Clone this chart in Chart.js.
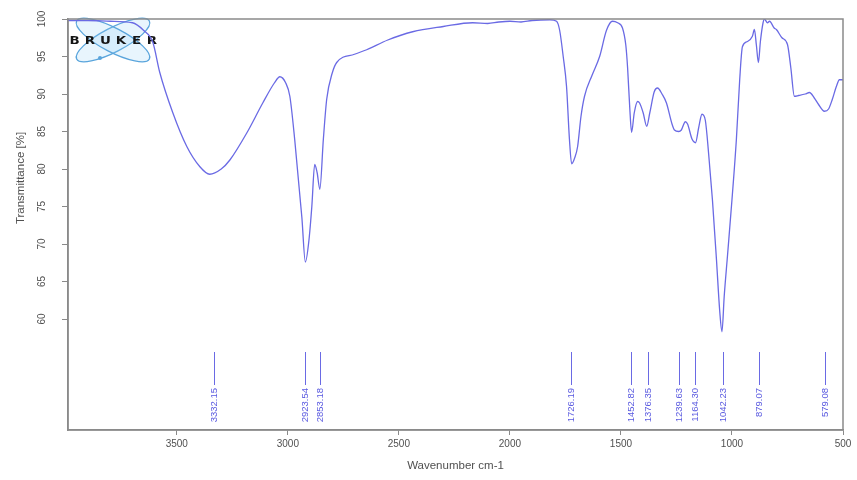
<!DOCTYPE html>
<html>
<head>
<meta charset="utf-8">
<script src="https://cdn.jsdelivr.net/npm/chart.js@4"></script>
<style>
html,body{margin:0;padding:0;background:#fff;}
canvas{display:block;}
</style>
</head>
<body>
<canvas id="ir" width="857" height="480"></canvas>
<script>
// spectrum (wavenumber cm-1 / transmittance %)
const wavenumbers = [3990,3900,3800,3700,3650,3608,3577,3518,3455,3396,3352,3300,3261,3185,3113,3060,3036,3010,2991,2969,2937,2921,2905,2892,2879,2868,2856,2840,2825,2800,2780,2700,2645,2550,2438,2300,2168,2100,2050,2000,1950,1900,1820,1790,1776,1760,1745,1732,1722,1708,1695,1680,1664,1630,1596,1565,1538,1515,1493,1478,1470,1460,1452,1440,1425,1416,1400,1384,1370,1350,1335,1315,1295,1270,1259,1240,1228,1210,1200,1180,1164,1150,1135,1120,1105,1088,1070,1055,1045,1035,1020,1000,980,965,953,930,908,899,890,881,872,860,854,840,831,810,800,775,750,735,719,700,670,651,630,610,584,565,548,530,516,500];
const transmittance = [99.8,99.8,99.7,99.5,98.5,96.9,92.9,87.5,83.0,80.3,79.3,80.0,81.2,84.8,88.8,91.5,92.3,91.5,89.7,83.9,73.6,67.6,70.5,75.0,80.6,79.5,77.3,84.0,89.3,92.8,94.2,95.3,95.9,97.2,98.3,99.0,99.5,99.4,99.6,99.7,99.6,99.8,99.9,99.7,98.5,95.0,91.0,84.0,80.7,81.5,83.0,87.0,89.7,92.5,95.0,98.5,99.7,99.5,98.8,96.5,93.5,88.0,84.9,87.5,89.0,88.8,87.5,85.7,87.5,90.3,90.8,90.0,88.8,86.0,85.2,85.0,85.2,86.3,86.0,84.0,83.5,85.5,87.3,86.5,82.0,75.9,68.0,61.0,58.3,63.0,68.5,75.9,84.0,92.0,96.3,97.0,97.7,98.6,96.5,94.2,97.0,99.5,100.0,99.5,99.7,98.8,98.6,97.5,96.6,93.5,89.7,89.8,90.0,90.2,89.5,88.6,87.7,88.0,89.3,91.0,91.9,91.9];

// picked peaks
const peaks = [3332.15,2923.54,2853.18,1726.19,1452.82,1376.35,1239.63,1164.30,1042.23,879.07,579.08];
const peakTop = 55.6, peakBottom = 51.2;

const xTicks = [3500,3000,2500,2000,1500,1000,500];
const yTicks = [60,65,70,75,80,85,90,95,100];

const axisGray = '#8a8a8a';
const textGray = '#505050';
const lineBlue = '#6a6ae4';

const overlay = {
	id:'overlay',
	beforeDatasetsDraw(chart){
		// bruker logo
		const ctx = chart.ctx;
		ctx.save();
		ctx.strokeStyle = '#5aa5dc';
		ctx.fillStyle = 'rgba(140,205,245,0.2)';
		ctx.lineWidth = 1.3;
		[-0.48,0.48].forEach(a=>{
			ctx.beginPath();
			ctx.ellipse(113,40,41,12,a,0,Math.PI*2);
			ctx.fill();
			ctx.stroke();
		});
		ctx.beginPath();
		ctx.arc(100,58,2,0,Math.PI*2);
		ctx.fillStyle = '#5aa5dc';
		ctx.fill();
		ctx.fillStyle = '#151515';
		ctx.font = 'bold 11px "DejaVu Sans"';
		ctx.textAlign = 'center';
		ctx.textBaseline = 'middle';
		'BRUKER'.split('').forEach((ch,i)=>{
			ctx.save();
			ctx.translate(74.5+i*15.5,41);
			ctx.scale(1.22,1);
			ctx.fillText(ch,0,0);
			ctx.restore();
		});
		ctx.restore();
	},
	afterDraw(chart){
		const ctx = chart.ctx;
		const a = chart.chartArea;
		const xs = chart.scales.x, ys = chart.scales.y;
		ctx.save();
		// frame
		ctx.strokeStyle = axisGray;
		ctx.lineWidth = 1.5;
		ctx.strokeRect(a.left,a.top,a.right-a.left,a.bottom-a.top);
		// y tick labels and title, rotated
		ctx.fillStyle = textGray;
		ctx.font = '10px "Liberation Sans"';
		ctx.textAlign = 'center';
		ctx.textBaseline = 'middle';
		ys.ticks.forEach(t=>{
			const py = ys.getPixelForValue(t.value);
			ctx.save();
			ctx.translate(42,py);
			ctx.rotate(-Math.PI/2);
			ctx.fillText(String(t.value),0,0);
			ctx.restore();
		});
		ctx.save();
		ctx.font = '11.5px "Liberation Sans"';
		ctx.translate(21,ys.getPixelForValue(78.8));
		ctx.rotate(-Math.PI/2);
		ctx.fillText('Transmittance [%]',0,0);
		ctx.restore();
		// peak marks
		ctx.strokeStyle = lineBlue;
		ctx.fillStyle = '#5a5ae0';
		ctx.lineWidth = 1;
		ctx.font = '9.5px "Liberation Sans"';
		ctx.textAlign = 'right';
		peaks.forEach(p=>{
			const px = Math.round(xs.getPixelForValue(p))+0.5;
			const y1 = ys.getPixelForValue(peakTop), y2 = ys.getPixelForValue(peakBottom);
			ctx.beginPath();
			ctx.moveTo(px,y1);
			ctx.lineTo(px,y2);
			ctx.stroke();
			ctx.save();
			ctx.translate(px,y2+3);
			ctx.rotate(-Math.PI/2);
			ctx.fillText(p.toFixed(2),0,0);
			ctx.restore();
		});
		ctx.restore();
	}
};

const irChart = new Chart(document.querySelector('#ir').getContext('2d'),{
	type:'line',
	data:{
		datasets:[{
			data:wavenumbers.map((w,i)=>({x:w,y:transmittance[i]})),
			borderColor:lineBlue,
			borderWidth:1.3,
			pointRadius:0,
			cubicInterpolationMode:'monotone',
			fill:false
		}]
	},
	options:{
		responsive:false,
		animation:false,
		layout:{padding:{left:0,right:14,top:19,bottom:0}},
		plugins:{legend:{display:false},tooltip:{enabled:false}},
		scales:{
			x:{
				type:'linear',
				reverse:true,
				min:500,
				max:3990,
				afterBuildTicks:s=>{ s.ticks = xTicks.map(v=>({value:v})); },
				afterFit:s=>{ s.height = 50; },
				grid:{display:true,drawOnChartArea:false,drawTicks:true,tickLength:5,color:axisGray},
				border:{display:true,color:axisGray,width:1.5},
				ticks:{color:textGray,font:{family:'Liberation Sans',size:10},padding:3,maxRotation:0,autoSkip:false,callback:v=>String(v)},
				title:{display:true,text:'Wavenumber cm-1',color:textGray,font:{family:'Liberation Sans',size:11.5},padding:{top:0,bottom:7}}
			},
			y:{
				type:'linear',
				min:45.2,
				max:100,
				afterBuildTicks:s=>{ s.ticks = yTicks.map(v=>({value:v})); },
				afterFit:s=>{ s.width = 68; },
				grid:{display:true,drawOnChartArea:false,drawTicks:true,tickLength:6,color:axisGray},
				border:{display:true,color:axisGray,width:1.5},
				ticks:{display:false},
				title:{display:false}
			}
		}
	},
	plugins:[overlay]
});
</script>
</body>
</html>
